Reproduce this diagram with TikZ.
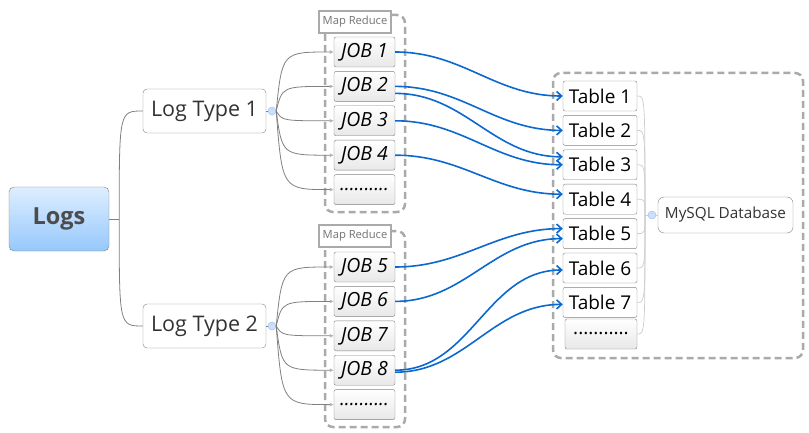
\documentclass[tikz,border=0pt]{standalone}
\usepackage{fontspec}
\setmainfont{Open Sans}
\usetikzlibrary{shapes,arrows.meta,positioning}
\definecolor{linkblue}{RGB}{10,104,208}
\definecolor{textgray}{RGB}{51,51,51}
\definecolor{boxgray}{RGB}{128,128,128}
\definecolor{dashgray}{RGB}{170,170,170}
\definecolor{rootlight}{RGB}{222,238,255}
\definecolor{rootdark}{RGB}{150,200,252}
\definecolor{knobfill}{RGB}{204,224,252}
\definecolor{knobline}{RGB}{150,185,235}
\tikzstyle{root} = [rectangle, rounded corners=5pt, minimum width=100pt, minimum height=64pt, draw=boxgray, top color=rootlight, bottom color=rootdark, text=black!70, font=\bfseries\fontsize{23.5}{23.5}\selectfont]
\tikzstyle{logtype} = [rectangle, rounded corners=4pt, minimum width=123pt, minimum height=44pt, draw=boxgray, fill=white, text=textgray, font=\fontsize{21.5}{21.5}\selectfont]
\tikzstyle{job} = [rectangle, rounded corners=2pt, minimum width=61pt, minimum height=30pt, draw=boxgray, top color=white, bottom color=black!9, font=\itshape\fontsize{19.5}{19.5}\selectfont]
\tikzstyle{tbl} = [rectangle, rounded corners=2pt, minimum width=74pt, minimum height=30pt, draw=boxgray, fill=white, font=\fontsize{19}{19}\selectfont]
\tikzstyle{tbldots} = [tbl, minimum width=72pt, top color=white, bottom color=black!9]
\tikzstyle{dbbox} = [rectangle, rounded corners=6pt, minimum width=135pt, minimum height=36pt, draw=boxgray, fill=white, text=textgray, font=\fontsize{15.3}{15.3}\selectfont]
\tikzstyle{mrtag} = [rectangle, draw=dashgray, line width=2.5pt, fill=white, text=black!55, minimum width=72pt, minimum height=22pt, inner sep=1pt, font=\fontsize{11.2}{11.2}\selectfont]
\tikzstyle{mrgroup} = [draw=dashgray, line width=2.5pt, dash pattern=on 7pt off 4pt, rounded corners=8pt]
\tikzstyle{knob} = [circle, draw=knobline, fill=knobfill, minimum size=8pt, inner sep=0pt, text=knobline, font=\fontsize{6}{6}\selectfont]
\tikzstyle{branch} = [draw=black!50, line width=0.8pt]
\tikzstyle{leaf} = [branch, -{Latex[length=4pt,width=4pt,color=black!30]}]
\tikzstyle{dbline} = [draw=black!20, line width=0.7pt]
\tikzstyle{link} = [-{Straight Barb[length=5pt,width=9pt]}, draw=linkblue, line width=1.6pt]

\begin{document}
\begin{tikzpicture}[x=1pt,y=-1pt,node distance=4pt]
\useasboundingbox (0,0) rectangle (809,433);

% dashed groups
\draw[mrgroup] (325,15) rectangle (405,212);
\draw[mrgroup] (325,231) rectangle (405,427);
\draw[mrgroup] (553,73) rectangle (803,358);

\node(logs)[root] at (59,219) {Logs};
\node(lt1)[logtype] at (204.5,111) {Log Type 1};
\node(lt2)[logtype] at (204.5,326) {Log Type 2};
\node(k1)[knob] at (272,111) {-};
\node(k2)[knob] at (272,326) {-};
\coordinate (k1x) at ([xshift=6pt]k1.east);
\coordinate (k2x) at ([xshift=6pt]k2.east);

\node(mr1)[mrtag] at (355,22) {Map Reduce};
\node(job1)[job] at (364.5,52) {JOB 1};
\node(job2)[job,below= of job1] {JOB 2};
\node(job3)[job,below= of job2] {JOB 3};
\node(job4)[job,below= of job3] {JOB 4};
\node(dots1)[job,below= of job4] {..........};

\node(mr2)[mrtag] at (355,236) {Map Reduce};
\node(job5)[job] at (364.5,267) {JOB 5};
\node(job6)[job,below= of job5] {JOB 6};
\node(job7)[job,below= of job6] {JOB 7};
\node(job8)[job,below= of job7] {JOB 8};
\node(dots2)[job,below= of job8] {..........};

\node(t1)[tbl] at (600,96) {Table 1};
\node(t2)[tbl,below= of t1] {Table 2};
\node(t3)[tbl,below= of t2] {Table 3};
\node(t4)[tbl,below= of t3] {Table 4};
\node(t5)[tbl,below= of t4] {Table 5};
\node(t6)[tbl,below= of t5] {Table 6};
\node(t7)[tbl,below= of t6] {Table 7};
\node(dots3)[tbldots] at (601,334) {...........};

\node(db)[dbbox] at (725.5,215) {MySQL Database};
\node(k3)[knob] at (652,215) {-};
\coordinate (dbjoin) at (645,215);

% logs to log types
\draw[branch] (logs.east) -- ++(10,0) coordinate (fork);
\draw[branch] (fork) .. controls (fork |- lt1.west) .. (lt1.west);
\draw[branch] (fork) .. controls (fork |- lt2.west) .. (lt2.west);
\draw[branch] (lt1.east) -- (k1.west) (lt2.east) -- (k2.west);
\foreach \j in {job1,job2,job3,job4,dots1}
  \draw[leaf] (k1.east) .. controls (k1x |- \j.west) .. (\j.west);
\foreach \j in {job5,job6,job7,job8,dots2}
  \draw[leaf] (k2.east) .. controls (k2x |- \j.west) .. (\j.west);

% tables to database
\foreach \t in {t1,t2,t3,t4,t5,t6,t7,dots3}
  \draw[dbline] (\t.east) .. controls (dbjoin |- \t.east) .. (dbjoin);
\draw[dbline] (dbjoin) -- (k3.west) (k3.east) -- (db.west);

% jobs to tables
\draw[link] (job1.east) to[out=0,in=180] (t1.west);
\draw[link] (job2.east) to[out=0,in=180] (t2.west);
\draw[link] ([yshift=-7pt]job2.east) to[out=0,in=180] ([yshift=8pt]t3.west);
\draw[link] (job3.east) to[out=0,in=180] (t3.west);
\draw[link] (job4.east) to[out=0,in=180] ([yshift=5pt]t4.west);
\draw[link] (job5.east) to[out=0,in=180] ([yshift=5pt]t5.west);
\draw[link] (job6.east) to[out=0,in=180] ([yshift=-5pt]t5.west);
\draw[link] (job8.east) to[out=0,in=180] ([yshift=-2pt]t6.west);
\draw[link] ([yshift=-2pt]job8.east) to[out=0,in=180] ([yshift=-2pt]t7.west);
\end{tikzpicture}
\end{document}
